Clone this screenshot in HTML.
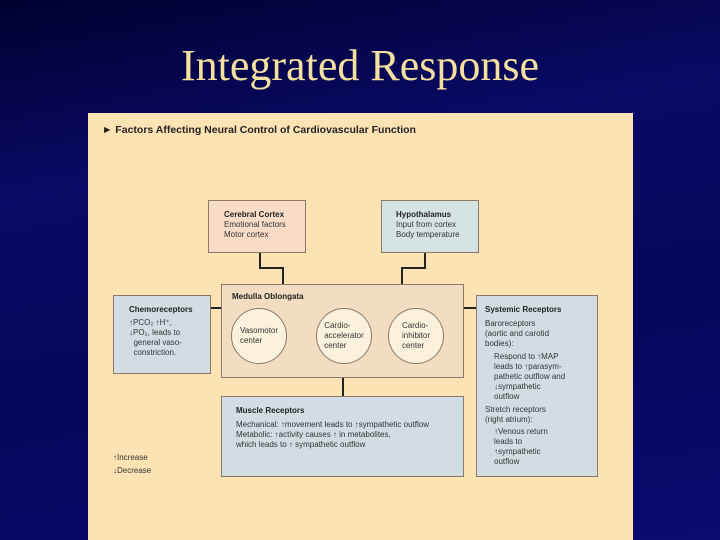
<!DOCTYPE html>
<html><head><style>
body{margin:0;width:720px;height:540px;overflow:hidden;background:#06065a;position:relative;font-family:"Liberation Sans",sans-serif}
.bg{position:absolute;inset:0;background:linear-gradient(170deg,#000030 0%,#0a0a66 30%,#06065a 60%,#0a0a70 100%)}
h1{position:absolute;left:0;width:720px;top:40px;margin:0;text-align:center;font:44px "Liberation Serif",serif;color:#f5e0a0;font-weight:normal}
.panel{position:absolute;left:88px;top:113px;width:545px;height:427px;background:#fde3b4}
.b{position:absolute;border:1px solid #8a7a6a;font-size:8px;color:#333;line-height:10px;box-sizing:border-box}
.b b{color:#222}
.c{position:absolute;width:56px;height:56px;border-radius:50%;background:#fcf1dc;border:1px solid #8a7a6a;font-size:8px;line-height:10px;color:#333;box-sizing:border-box;display:flex;align-items:center;justify-content:center;text-align:left}
.l{position:absolute;background:#222}
</style></head><body>
<div class="bg"></div>
<h1>Integrated Response</h1>
<div class="panel"></div>
<div style="position:absolute;left:102px;top:124px;font-size:10.5px;font-weight:bold;color:#222">► Factors Affecting Neural Control of Cardiovascular Function</div>
<div class="b" style="left:208px;top:200px;width:98px;height:53px;background:#f9dcc6;padding:9px 0 0 15px"><b>Cerebral Cortex</b><br>Emotional factors<br>Motor cortex</div>
<div class="b" style="left:381px;top:200px;width:98px;height:53px;background:#d5e3e3;padding:9px 0 0 14px"><b>Hypothalamus</b><br>Input from cortex<br>Body temperature</div>
<div class="b" style="left:221px;top:284px;width:243px;height:94px;background:#f3dcc0;padding:7px 0 0 10px"><b>Medulla Oblongata</b></div>
<div class="c" style="left:231px;top:308px">Vasomotor<br>center</div>
<div class="c" style="left:316px;top:308px">Cardio-<br>accelerator<br>center</div>
<div class="c" style="left:388px;top:308px">Cardio-<br>inhibitor<br>center</div>
<div class="b" style="left:113px;top:295px;width:98px;height:79px;background:#d2dde3;padding:9px 0 0 15px"><b>Chemoreceptors</b><br><div style="margin-top:3px">↑PCO₂ ↑H⁺,<br>↓PO₂, leads to<br>&nbsp;&nbsp;general vaso-<br>&nbsp;&nbsp;constriction.</div></div>
<div class="b" style="left:476px;top:295px;width:122px;height:182px;background:#d2dde3;padding:9px 0 0 8px"><b>Systemic Receptors</b><div style="margin-top:4px">Baroreceptors<br>(aortic and carotid<br>bodies):</div><div style="margin:3px 0 0 9px">Respond to ↑MAP<br>leads to ↑parasym-<br>pathetic outflow and<br>↓sympathetic<br>outflow</div><div style="margin-top:3px">Stretch receptors<br>(right atrium):</div><div style="margin:2px 0 0 9px">↑Venous return<br>leads to<br>↑sympathetic<br>outflow</div></div>
<div class="b" style="left:221px;top:396px;width:243px;height:81px;background:#d2dde3;padding:9px 0 0 14px"><b>Muscle Receptors</b><div style="margin-top:4px">Mechanical: ↑movement leads to ↑sympathetic outflow<br>Metabolic: ↑activity causes ↑ in metabolites,<br>which leads to ↑ sympathetic outflow</div></div>
<div style="position:absolute;left:113px;top:451px;font-size:8px;line-height:13px;color:#333">↑Increase<br>↓Decrease</div>
<div class="l" style="left:259px;top:253px;width:2px;height:16px"></div>
<div class="l" style="left:259px;top:267px;width:25px;height:2px"></div>
<div class="l" style="left:282px;top:267px;width:2px;height:17px"></div>
<div class="l" style="left:424px;top:253px;width:2px;height:16px"></div>
<div class="l" style="left:401px;top:267px;width:25px;height:2px"></div>
<div class="l" style="left:401px;top:267px;width:2px;height:17px"></div>
<div class="l" style="left:211px;top:307px;width:10px;height:2px"></div>
<div class="l" style="left:464px;top:307px;width:12px;height:2px"></div>
<div class="l" style="left:342px;top:378px;width:2px;height:18px"></div>
</body></html>
